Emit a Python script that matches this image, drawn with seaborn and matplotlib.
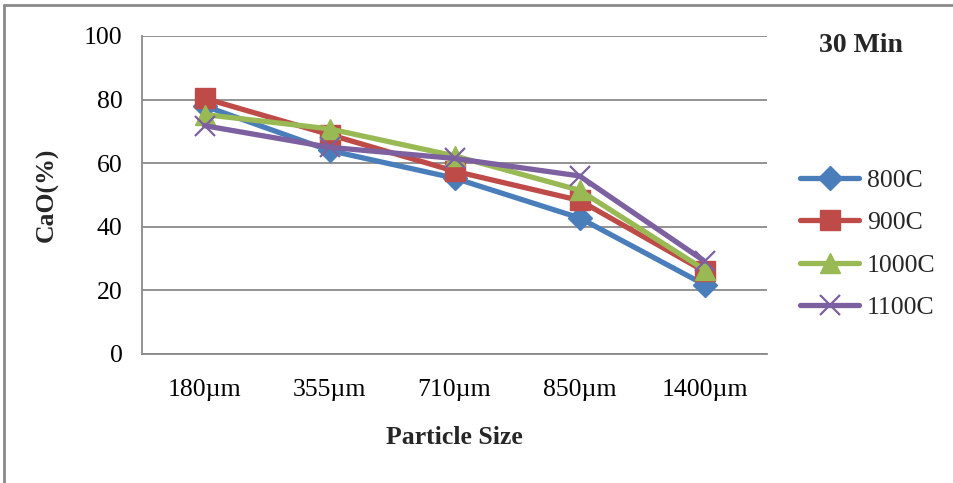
import matplotlib
matplotlib.use("Agg")
import matplotlib.pyplot as plt
import seaborn as sns
import pandas as pd

sizes = ["180µm", "355µm", "710µm", "850µm", "1400µm"]
temps = ["800C", "900C", "1000C", "1100C"]
cao_800 = [78.0, 64.0, 55.3, 42.8, 21.8]
cao_900 = [80.4, 69.0, 57.5, 48.3, 26.0]
cao_1000 = [75.3, 70.8, 62.3, 51.5, 26.5]
cao_1100 = [71.8, 65.0, 61.5, 56.0, 29.2]

series = dict(zip(temps, [cao_800, cao_900, cao_1000, cao_1100]))
df = pd.DataFrame(
    [(s, t, v) for t, vals in series.items() for s, v in zip(sizes, vals)],
    columns=["size", "temp", "cao"],
)

sns.set_theme(style="white")
plt.rcParams["font.family"] = ["Liberation Serif", "DejaVu Serif"]

FS = 18.5
palette = {"800C": "#4A7EBB", "900C": "#BE4B48", "1000C": "#98B954", "1100C": "#7D60A0"}
markers = {"800C": "D", "900C": "s", "1000C": "^", "1100C": "x"}
msize = {"800C": 12, "900C": 14, "1000C": 14, "1100C": 14}
mew = {"800C": 1.0, "900C": 1.0, "1000C": 1.0, "1100C": 1.6}
LW = 3.8

fig = plt.figure(figsize=(9.54, 4.83), dpi=100)
ax = fig.add_axes([142 / 954, 1 - 354 / 483, (767 - 142) / 954, (354 - 36) / 483])

# one call per temperature so filled and line-art markers can coexist
for t in temps:
    sns.lineplot(
        data=df[df["temp"] == t], x="size", y="cao", color=palette[t],
        marker=markers[t], markersize=msize[t], markeredgecolor=palette[t],
        markeredgewidth=mew[t], sort=False, linewidth=LW, ax=ax, legend=False,
    )

ax.set_xlim(-0.5, 4.5)
ax.set_ylim(0, 100)
ax.set_yticks([0, 20, 40, 60, 80, 100])
ax.yaxis.grid(True, color="#8A8A8A", linewidth=1.3)
ax.set_axisbelow(True)
for side in ["top", "right"]:
    ax.spines[side].set_visible(False)
for side in ["left", "bottom"]:
    ax.spines[side].set_color("#8A8A8A")
    ax.spines[side].set_linewidth(1.3)

ax.set_xticks(range(len(sizes)))
ax.set_xticklabels(sizes)
ax.set_xticks([i - 0.5 for i in range(len(sizes) + 1)], minor=True)
ax.tick_params(axis="x", which="major", length=0, pad=18, labelsize=FS, labelcolor="black")
ax.tick_params(axis="x", which="minor", length=7, width=1.3, color="#8A8A8A", direction="out")
ax.tick_params(axis="y", length=7, width=1.3, color="#8A8A8A", direction="out", pad=7,
               labelsize=FS, labelcolor="black")

ax.set_xlabel("Particle Size", fontsize=FS, fontweight="bold", labelpad=18)
ax.set_ylabel("CaO(%)", fontsize=FS, fontweight="bold", labelpad=18)

fig.text(861 / 954, 1 - 45 / 483, "30 Min", fontsize=20, fontweight="bold",
         ha="center", va="center")

handles = [
    plt.Line2D([], [], color=palette[t], marker=markers[t], markersize=msize[t],
               markeredgecolor=palette[t], markeredgewidth=mew[t],
               linewidth=LW, solid_capstyle="round")
    for t in temps
]
fig.legend(handles, temps, loc="center left", bbox_to_anchor=(800 / 954, 1 - 244 / 483),
           frameon=False, fontsize=FS, handlelength=2.3, labelspacing=0.75,
           handletextpad=0.3, borderaxespad=0, borderpad=0)

# outer chart border (left and top edges visible)
border = dict(color="#8A8A8A", linewidth=2.0, transform=fig.transFigure)
fig.add_artist(plt.Line2D([4 / 954, 4 / 954], [0, 1 - 5 / 483], **border))
fig.add_artist(plt.Line2D([4 / 954, 1], [1 - 5 / 483, 1 - 5 / 483], **border))

fig.savefig("out.png", dpi=100)
